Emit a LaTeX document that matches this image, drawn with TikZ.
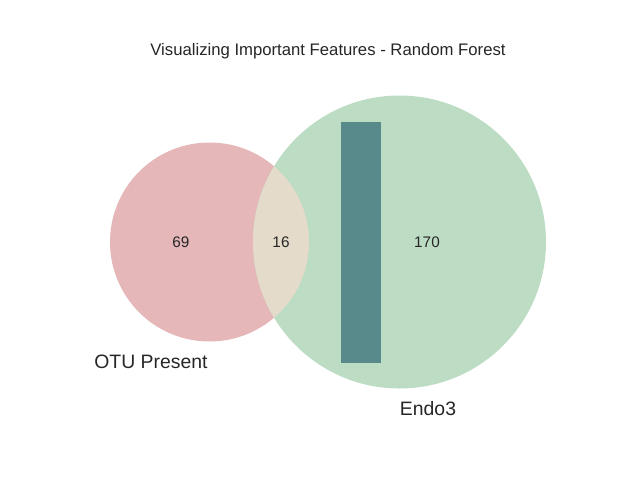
\documentclass[tikz,border=0pt]{standalone}
\usepackage{fontspec}
\setmainfont{Liberation Sans}
\usetikzlibrary{positioning}
\definecolor{mPink}{HTML}{E5B7B8}
\definecolor{mMint}{HTML}{BDDCC4}
\definecolor{mSand}{HTML}{E4DBCB}
\definecolor{mTeal}{HTML}{588A8B}
\definecolor{mText}{HTML}{262626}

\begin{document}
\begin{tikzpicture}[x=1pt, y=-1pt,
    setcircle/.style={circle, inner sep=0pt, minimum size=#1},
    count/.style={text=mText, font=\fontsize{15.3}{17}\selectfont},
    setlabel/.style={text=mText, font=\fontsize{19.4}{21}\selectfont}]
    \useasboundingbox (0,0) rectangle (640,480);
    % the two sets
    \node[setcircle=199pt, fill=mPink] (otu) at (209.5,242) {};
    \node[setcircle=293pt, fill=mMint] (endo) at (399.5,242) {};
    \begin{scope}
      \clip (209.5,242) circle (99.5pt);
      \fill[mSand] (399.5,242) circle (146.5pt);
    \end{scope}
    \fill[mTeal] (341,122) rectangle (381,363);
    % counts
    \node[count] (onlyotu) at (181,242) {69};
    \node[count] (both) at (281,242) {16};
    \node[count] (onlyendo) at (427,242) {170};
    % names
    \node[setlabel] (otuname) at (151,362) {OTU Present};
    \node[setlabel] (endoname) at (428,409) {Endo3};
    \node[font=\fontsize{16.7}{18}\selectfont, text=mText] (title) at (328,51) {Visualizing Important Features - Random Forest};
\end{tikzpicture}
\end{document}
